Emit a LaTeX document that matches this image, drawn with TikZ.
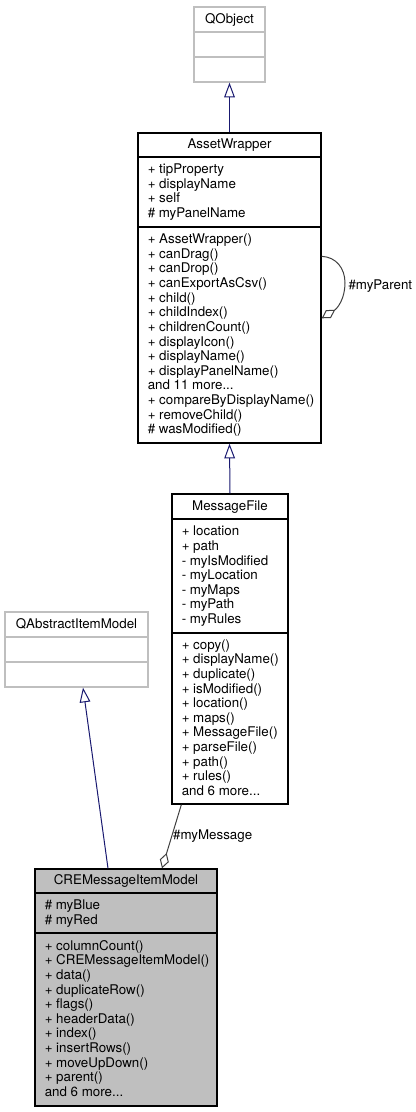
\documentclass[tikz,border=0pt]{standalone}
\usepackage{fontspec}
\setmainfont{TeX Gyre Heros}
\usepackage{xcolor}
\usepackage{tikz}
\usetikzlibrary{arrows.meta}
\usetikzlibrary{fit}
\definecolor{dxBlau}{HTML}{191970}
\definecolor{dxGrau}{HTML}{BFBFBF}
\definecolor{dxKante}{HTML}{404040}
\newcommand{\UndMehr}[1]{and #1 more...}
\tikzset{
  Klasse/.style={draw=black, line width=1pt, inner sep=0pt}, % eigene Klassen
  Fremd/.style={draw=dxGrau, line width=1pt, inner sep=0pt}, % Qt-Klassen
  Titel/.style={anchor=base, inner sep=0pt},
  Zeile/.style={anchor=base west, inner sep=0pt},
  Rolle/.style={anchor=base west, inner sep=0pt, text=black}, % Kantenbeschriftung
  Erbt/.style={dxBlau, line width=.75pt, -{Triangle[open, length=11pt, width=8pt]}},% Vererbung
  Hat/.style={dxKante, line width=.75pt, -{Diamond[open, length=12pt, width=7pt]}}  % Aggregation
}

\begin{document}
\begin{tikzpicture}[x=.75pt, y=-.75pt,
font=\fontsize{10}{12}\selectfont
]
\useasboundingbox (0,0) rectangle (416,1112);

%Klassen
% QObject
\node[Fremd, fit={(194,7) (265,82)}] (qobj) {};
\draw[dxGrau, line width=1pt] (194,32) -- (265,32);
\draw[dxGrau, line width=1pt] (194,57) -- (265,57);
\node[Titel] (qobj-t) at (229.5,23.5) {QObject};

% AssetWrapper
\node[Klasse, fit={(138,133) (321,443)}] (aw) {};
\draw[line width=1pt] (138,157) -- (321,157);
\draw[line width=1pt] (138,227) -- (321,227);
\node[Titel] (aw-t) at (229.5,148.7) {AssetWrapper};
\foreach \t [count=\i from 0] in {+ tipProperty, + displayName, + self, \# myPanelName}
  \node[Zeile] (aw-a\i) at (147.5,{173.6+14.6*\i}) {\t};
\foreach \t [count=\i from 0] in {+ AssetWrapper(), + canDrag(), + canDrop(),
  + canExportAsCsv(), + child(), + childIndex(), + childrenCount(), + displayIcon(),
  + displayName(), + displayPanelName(), \UndMehr{11}, + compareByDisplayName(),
  + removeChild(), \# wasModified()}
  \node[Zeile] (aw-m\i) at (147.5,{243.8+14.6*\i}) {\t};

% MessageFile
\node[Klasse, fit={(172,494) (288,804)}] (mf) {};
\draw[line width=1pt] (172,519) -- (288,519);
\draw[line width=1pt] (172,633) -- (288,633);
\node[Titel] (mf-t) at (230,510.2) {MessageFile};
\foreach \t [count=\i from 0] in {+ location, + path, - myIsModified, - myLocation,
  - myMaps, - myPath, - myRules}
  \node[Zeile] (mf-a\i) at (181.5,{535.9+14.6*\i}) {\t};
\foreach \t [count=\i from 0] in {+ copy(), + displayName(), + duplicate(),
  + isModified(), + location(), + maps(), + MessageFile(), + parseFile(), + path(),
  + rules(), \UndMehr{6}}
  \node[Zeile] (mf-m\i) at (181.5,{649.2+14.6*\i}) {\t};

% QAbstractItemModel
\node[Fremd, fit={(5,612) (148,687)}] (qaim) {};
\draw[dxGrau, line width=1pt] (5,637) -- (148,637);
\draw[dxGrau, line width=1pt] (5,662) -- (148,662);
\node[Titel] (qaim-t) at (76.5,628) {QAbstractItemModel};

% CREMessageItemModel
\node[Klasse, fill=dxGrau, fit={(35,869) (217,1106)}] (cre) {};
\draw[line width=1pt] (35,893) -- (217,893);
\draw[line width=1pt] (35,933) -- (217,933);
\node[Titel] (cre-t) at (126,884.7) {CREMessageItemModel};
\foreach \t [count=\i from 0] in {\# myBlue, \# myRed}
  \node[Zeile] (cre-a\i) at (44.5,{909.4+14.6*\i}) {\t};
\foreach \t [count=\i from 0] in {+ columnCount(), + CREMessageItemModel(), + data(),
  + duplicateRow(), + flags(), + headerData(), + index(), + insertRows(),
  + moveUpDown(), + parent(), \UndMehr{6}}
  \node[Zeile] (cre-m\i) at (44.5,{950.2+14.6*\i}) {\t};

%Vererbung
\draw[Erbt] (aw.north) -- (qobj.south);
\draw[Erbt] (mf.north) -- (aw.south);
\draw[Erbt] ([shift={(-18,0)}]cre.north) -- ([shift={(6.5,0)}]qaim.south);

%Aggregation
\draw[Hat] ([shift={(10,0)}]mf.south west) --
  node[Rolle, pos=.55, shift={(2,0)}] (lbl-msg) {\#myMessage}
  ([shift={(36,0)}]cre.north);
\draw[Hat] ([shift={(0,124)}]aw.north east) .. controls (336,257) and (345,268) ..
  (345,283) node[Rolle, shift={(3,7)}] (lbl-par) {\#myParent}
  .. controls (345,298) and (338,308) .. ([shift={(0,186)}]aw.north east);

\end{tikzpicture}
\end{document}
